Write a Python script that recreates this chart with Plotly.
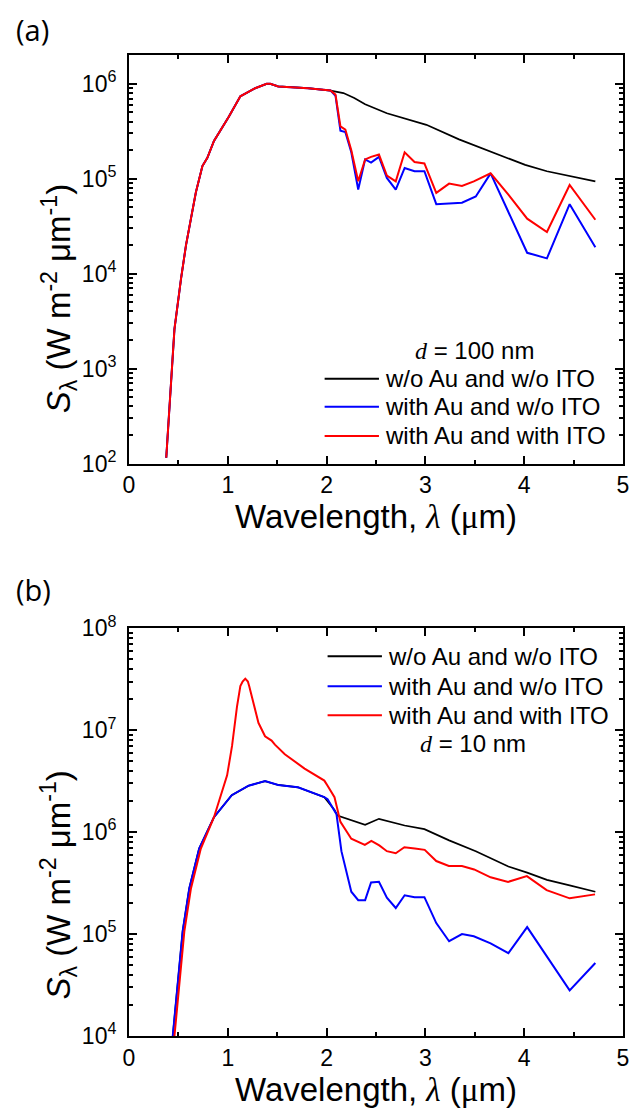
import plotly.graph_objects as go

# ---------------- Panel (a): d = 100 nm ----------------
a_rise_wl = [0.377, 0.41, 0.46, 0.527, 0.577, 0.627, 0.677, 0.743, 0.793, 0.86, 1.01,
             1.127, 1.277, 1.393, 1.43, 1.51, 1.66, 1.81, 2.04]
a_rise_S = [1.15e2, 4.2e2, 2.6e3, 8.9e3, 2.0e4, 3.8e4, 7.2e4, 1.36e5, 1.66e5, 2.5e5, 4.5e5,
            7.4e5, 9.0e5, 1.0e6, 1.0e6, 9.4e5, 9.2e5, 9.0e5, 8.5e5]

a_black_wl = a_rise_wl + [2.17, 2.28, 2.39, 2.61, 3.01, 3.34, 3.68, 4.01, 4.23, 4.46, 4.72]
a_black_S = a_rise_S + [8.0e5, 7.1e5, 6.1e5, 4.9e5, 3.7e5, 2.6e5, 1.9e5, 1.4e5, 1.2e5, 1.07e5, 9.4e4]

a_blue_wl = a_rise_wl + [2.09, 2.14, 2.19, 2.25, 2.32, 2.39, 2.45, 2.53, 2.61, 2.70, 2.79, 2.89,
                         2.99, 3.11, 3.37, 3.51, 3.66, 4.03, 4.23, 4.46, 4.72]
a_blue_S = a_rise_S + [7.5e5, 3.2e5, 3.1e5, 1.9e5, 7.7e4, 1.6e5, 1.48e5, 1.7e5, 1.02e5, 7.7e4, 1.3e5, 1.2e5,
                       1.2e5, 5.4e4, 5.6e4, 6.5e4, 1.14e5, 1.66e4, 1.45e4, 5.4e4, 1.9e4]

a_red_wl = a_rise_wl + [2.09, 2.14, 2.19, 2.25, 2.32, 2.39, 2.45, 2.53, 2.61, 2.70, 2.79, 2.89,
                        2.99, 3.11, 3.24, 3.37, 3.49, 3.66, 3.84, 4.03, 4.23, 4.46, 4.72]
a_red_S = a_rise_S + [7.7e5, 3.56e5, 3.3e5, 2.0e5, 9.4e4, 1.6e5, 1.7e5, 1.8e5, 1.08e5, 9.4e4, 1.9e5, 1.5e5,
                      1.45e5, 7.1e4, 8.9e4, 8.4e4, 9.4e4, 1.14e5, 6.8e4, 3.8e4, 2.75e4, 8.6e4, 3.7e4]

# ---------------- Panel (b): d = 10 nm ----------------
b_blue_wl = [0.443, 0.493, 0.543, 0.61, 0.71, 0.86, 1.04, 1.21, 1.377, 1.51, 1.71, 1.977, 2.01,
             2.1, 2.15, 2.25, 2.32, 2.39, 2.45, 2.53, 2.61, 2.70, 2.79, 2.89, 2.99, 3.11, 3.24,
             3.37, 3.49, 3.66, 3.84, 4.03, 4.46, 4.72]
b_blue_S = [1.0e4, 3.4e4, 1.06e5, 2.8e5, 6.9e5, 1.4e6, 2.3e6, 2.85e6, 3.16e6, 2.9e6, 2.75e6, 2.2e6, 2.1e6,
            1.5e6, 6.5e5, 2.6e5, 2.15e5, 2.15e5, 3.2e5, 3.25e5, 2.27e5, 1.8e5, 2.4e5, 2.3e5, 2.3e5, 1.28e5, 8.5e4,
            1.0e5, 9.5e4, 8.1e4, 6.5e4, 1.17e5, 2.8e4, 5.2e4]

b_black_wl = [0.443, 0.493, 0.543, 0.61, 0.71, 0.86, 1.04, 1.21, 1.377, 1.51, 1.71, 1.977,
              2.08, 2.11, 2.25, 2.39, 2.53, 2.79, 2.99, 3.24, 3.51, 3.68, 3.84, 4.03, 4.23, 4.46, 4.72]
b_black_S = [1.0e4, 3.4e4, 1.06e5, 2.8e5, 6.9e5, 1.4e6, 2.3e6, 2.85e6, 3.16e6, 2.9e6, 2.75e6, 2.2e6,
             1.65e6, 1.45e6, 1.3e6, 1.18e6, 1.35e6, 1.16e6, 1.07e6, 8.3e5, 6.5e5, 5.4e5, 4.6e5, 4.0e5, 3.4e5, 3.0e5, 2.6e5]

b_red_wl = [0.46, 0.51, 0.56, 0.627, 0.727, 0.86, 0.927, 0.993, 1.043, 1.093, 1.127, 1.15, 1.177, 1.203,
            1.217, 1.26, 1.31, 1.377, 1.443, 1.477, 1.577, 1.777, 1.977, 2.01, 2.08, 2.14, 2.25, 2.387,
            2.453, 2.533, 2.61, 2.70, 2.787, 2.893, 2.993, 3.11, 3.237, 3.37, 3.493, 3.66, 3.837, 4.027,
            4.227, 4.46, 4.717]
b_red_S = [1.0e4, 3.4e4, 1.06e5, 2.8e5, 6.9e5, 1.4e6, 2.2e6, 3.6e6, 7.0e6, 1.7e7, 2.7e7, 3.0e7, 3.2e7, 3.0e7,
           2.7e7, 1.86e7, 1.18e7, 8.7e6, 7.9e6, 7.2e6, 5.8e6, 4.2e6, 3.2e6, 2.85e6, 2.2e6, 1.26e6, 8.6e5, 7.5e5,
           8.2e5, 7.4e5, 6.5e5, 6.2e5, 7.1e5, 6.9e5, 6.7e5, 5.2e5, 4.65e5, 4.65e5, 4.3e5, 3.6e5, 3.25e5, 3.7e5,
           2.7e5, 2.24e5, 2.45e5]

series_names = ["w/o Au and w/o ITO", "with Au and w/o ITO", "with Au and with ITO"]
series_colors = ["#000000", "#0000FF", "#FF0000"]
series_widths = [1.7, 2, 2]
x_ticks = [0, 1, 2, 3, 4, 5]
a_ytick_exp = [2, 3, 4, 5, 6]
b_ytick_exp = [4, 5, 6, 7, 8]

# The page body keeps an 8 px margin, so the figure is sized to fit inside it
OFF = 8
W, H = 631, 1100
# plot areas in reference-page pixels: x 129..629, (a) y 55..466, (b) y 631.7..1042
ML = 129 - OFF
MR = W - (629 - OFF)
MT = 55 - OFF
MB = H - (1042 - OFF)
PW = W - ML - MR
PH = H - MT - MB


def px(xp):
    return (xp - OFF - ML) / PW


def py(yp):
    return (H - MB - (yp - OFF)) / PH


SANS = "Liberation Sans"
SERIF = "Liberation Serif"

fig = go.Figure()

panel_a = [(a_black_wl, a_black_S), (a_blue_wl, a_blue_S), (a_red_wl, a_red_S)]
panel_b = [(b_black_wl, b_black_S), (b_blue_wl, b_blue_S), (b_red_wl, b_red_S)]
for (xs, ys), name, col, lw in zip(panel_a, series_names, series_colors, series_widths):
    fig.add_trace(go.Scatter(x=xs, y=ys, mode="lines", name=name, showlegend=False,
                             line=dict(color=col, width=lw), xaxis="x", yaxis="y"))
for (xs, ys), name, col, lw in zip(panel_b, series_names, series_colors, series_widths):
    fig.add_trace(go.Scatter(x=xs, y=ys, mode="lines", name=name, showlegend=False,
                             line=dict(color=col, width=lw), xaxis="x2", yaxis="y2"))

a_top = 1.0
a_bot = py(466)
b_top = py(631.7)
b_bot = 0.0

xtitle = ("Wavelength, <span style='font-family:%s'><i>λ</i></span> (<span style='font-family:%s'>μ</span>m)"
          % (SERIF, SERIF))
ytitle = ("<i>S</i><sub>λ</sub> (W m<sup>-2</sup> μm<sup>-1</sup>)")

xcommon = dict(range=[0, 5], tickmode="array", tickvals=x_ticks, ticktext=[str(v) for v in x_ticks],
               ticks="inside", ticklen=8, tickwidth=2, tickcolor="black",
               showline=True, linewidth=2, linecolor="black", mirror="ticks",
               showgrid=False, zeroline=False,
               tickfont=dict(family=SANS, size=23, color="black"),
               title=dict(text=xtitle, standoff=4, font=dict(family=SANS, size=33, color="black")),
               minor=dict(tickmode="linear", tick0=0, dtick=0.5, ticks="inside", ticklen=4,
                          tickwidth=2, tickcolor="black", showgrid=False))


def ycommon(exps, rng):
    return dict(type="log", range=rng, tickmode="array", tickvals=[10.0 ** e for e in exps],
                ticktext=["10<sup>%d</sup>" % e for e in exps],
                ticks="inside", ticklen=8, tickwidth=2, tickcolor="black",
                showline=True, linewidth=2, linecolor="black", mirror="ticks",
                showgrid=False, zeroline=False, ticklabelstandoff=6,
                tickfont=dict(family=SANS, size=23, color="black"),
                minor=dict(dtick="D1", ticks="inside", ticklen=4, tickwidth=1.5,
                           tickcolor="black", showgrid=False))


fig.update_layout(
    width=W, height=H,
    margin=dict(l=ML, r=MR, t=MT, b=MB, pad=0),
    paper_bgcolor="white", plot_bgcolor="white",
    showlegend=False,
    xaxis=dict(domain=[0, 1], anchor="y", **xcommon),
    yaxis=dict(domain=[a_bot, a_top], anchor="x", **ycommon(a_ytick_exp, [2, 6.304])),
    xaxis2=dict(domain=[0, 1], anchor="y2", **xcommon),
    yaxis2=dict(domain=[b_bot, b_top], anchor="x2", **ycommon(b_ytick_exp, [4, 8])),
)

ann = []
# rotated y titles: bottom of the text box ("S") placed where the reference shows it
for ybottom in (417, 1007):
    ann.append(dict(x=px(58), y=py(ybottom), xref="paper", yref="paper", text=ytitle, showarrow=False,
                    textangle=-90, xanchor="center", yanchor="bottom",
                    font=dict(family=SANS, size=33, color="black")))
ann.append(dict(x=px(13), y=py(8), xref="paper", yref="paper", text="(a)", showarrow=False,
                xanchor="left", yanchor="top", font=dict(family="Open Sans", size=29, color="black")))
ann.append(dict(x=px(13), y=py(571), xref="paper", yref="paper", text="(b)", showarrow=False,
                xanchor="left", yanchor="top", font=dict(family="Open Sans", size=29, color="black")))

shapes = []


def legend(line_x0, line_x1, text_x, ys):
    for yv, name, col in zip(ys, series_names, series_colors):
        shapes.append(dict(type="line", xref="paper", yref="paper", x0=px(line_x0), x1=px(line_x1),
                           y0=py(yv), y1=py(yv), line=dict(color=col, width=2)))
        ann.append(dict(x=px(text_x), y=py(yv), xref="paper", yref="paper", text=name, showarrow=False,
                        xanchor="left", yanchor="middle", font=dict(family=SANS, size=24, color="black")))


legend(327, 382, 386, [380.7, 409, 438.3])
legend(330, 385, 389, [660, 690, 719.3])
dtext = "<span style='font-family:%s'><i>d</i></span> = %s"
ann.append(dict(x=px(479), y=py(352), xref="paper", yref="paper", text=dtext % (SERIF, "100 nm"),
                showarrow=False, xanchor="center", yanchor="middle", font=dict(family=SANS, size=24, color="black")))
ann.append(dict(x=px(477), y=py(748), xref="paper", yref="paper", text=dtext % (SERIF, "10 nm"),
                showarrow=False, xanchor="center", yanchor="middle", font=dict(family=SANS, size=24, color="black")))

fig.update_layout(annotations=ann, shapes=shapes)
fig.write_html("out.html")
